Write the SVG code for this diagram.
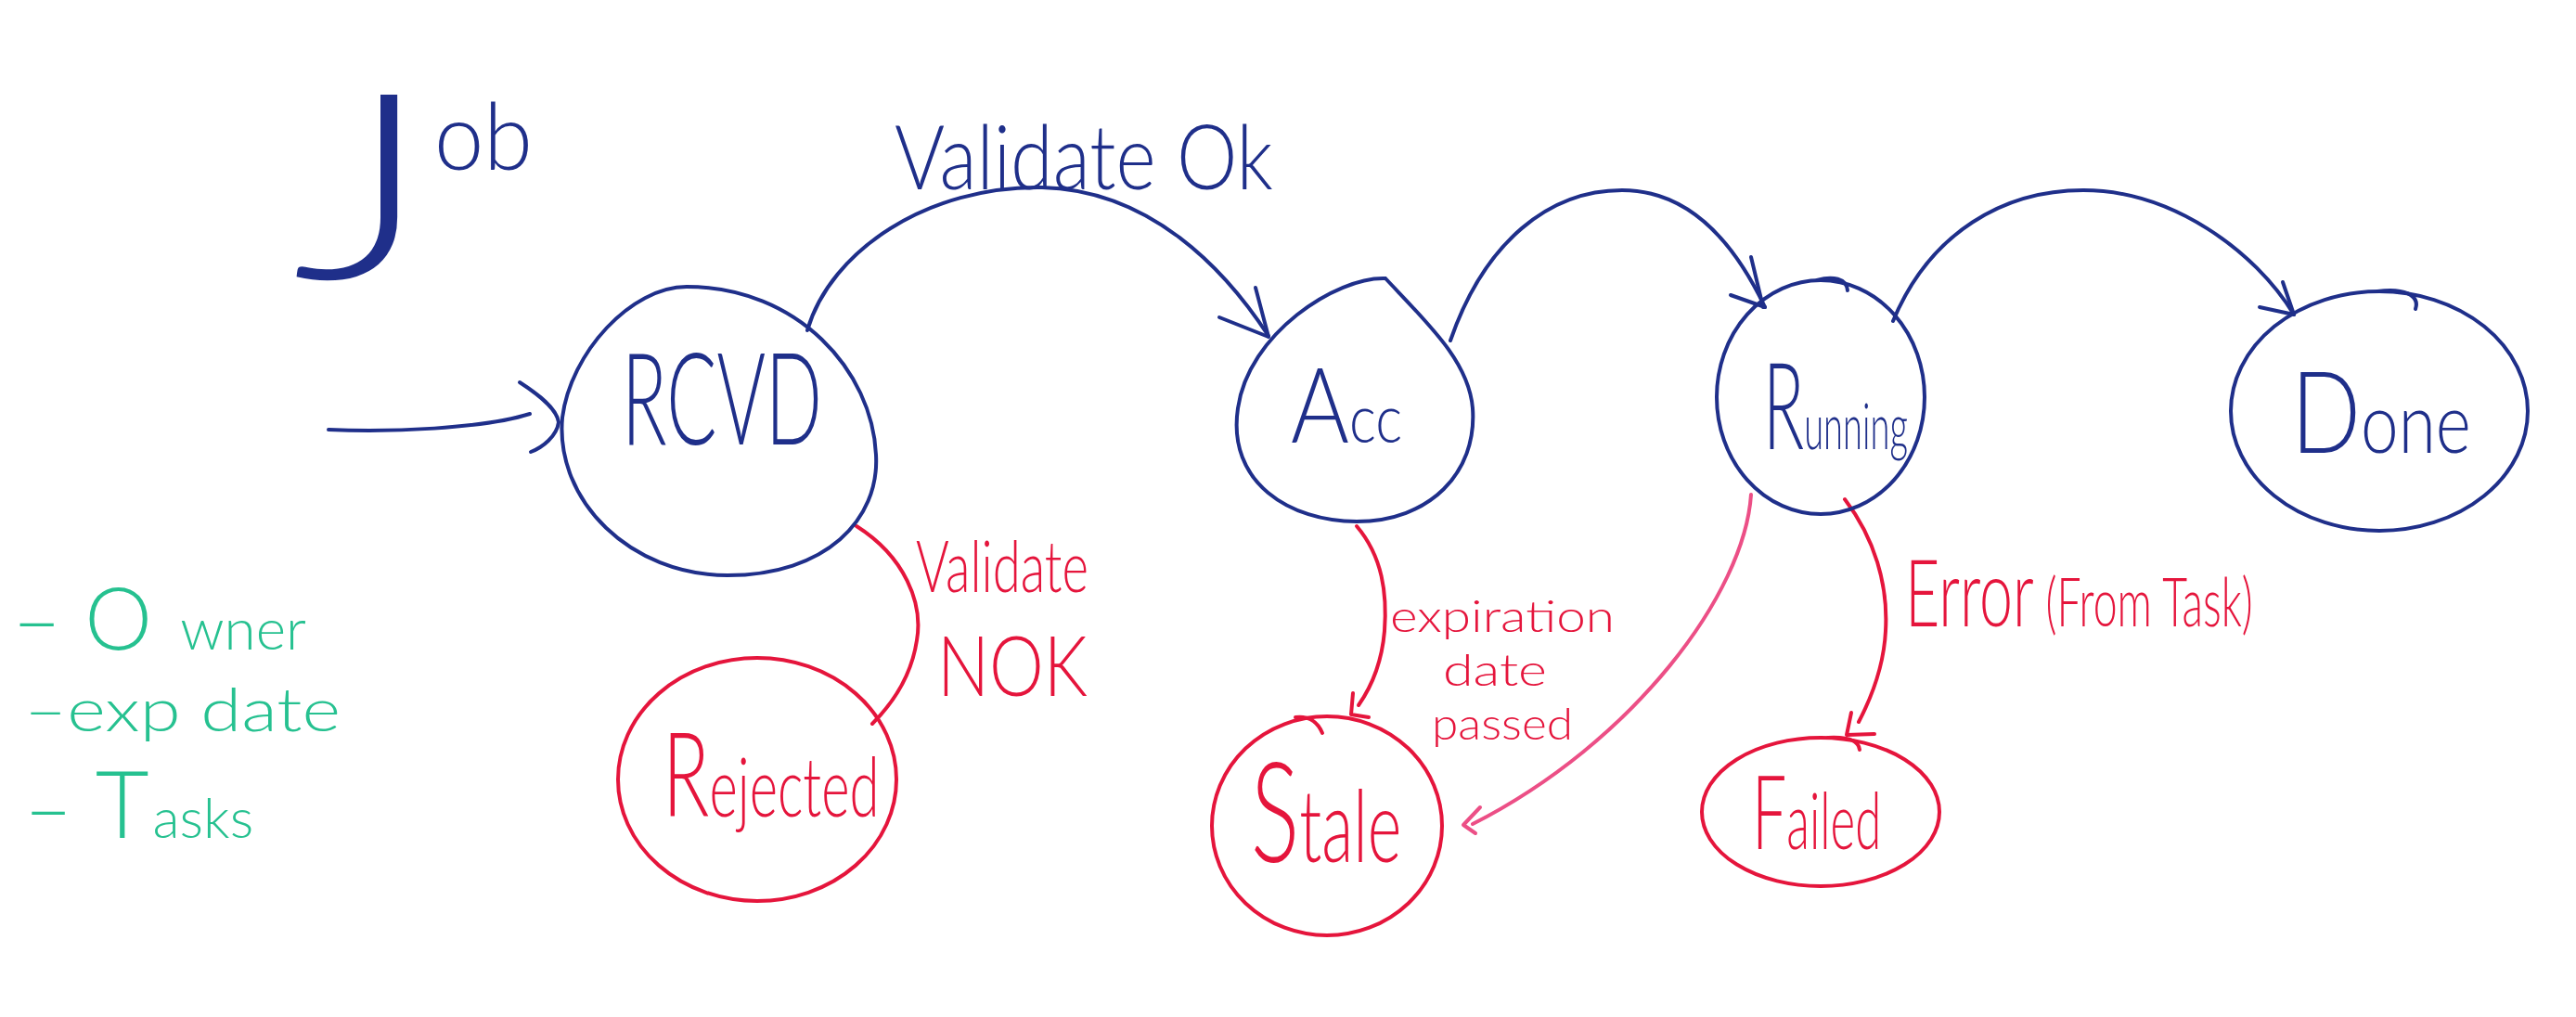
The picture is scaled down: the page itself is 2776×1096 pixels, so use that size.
<svg xmlns="http://www.w3.org/2000/svg" width="2776" height="1096" viewBox="0 0 2776 1096">
<style>
  text { font-family: Lato, "Liberation Sans", "DejaVu Sans", sans-serif; font-weight: 300; }
  .tb { fill: #1f2f8a; }
  .tr { fill: #e5153c; }
  .tg { fill: #26c190; }
  .nb { fill: none; stroke: #1f2f8a; stroke-width: 4; stroke-linecap: round; }
  .nr { fill: none; stroke: #e5153c; stroke-width: 4; stroke-linecap: round; }
  .eb { fill: none; stroke: #1f2f8a; stroke-width: 4; stroke-linecap: round; stroke-linejoin: round; }
  .er { fill: none; stroke: #e5153c; stroke-width: 4; stroke-linecap: round; stroke-linejoin: round; }
  .ep { fill: none; stroke: #ec4f86; stroke-width: 4; stroke-linecap: round; stroke-linejoin: round; }
</style>
<rect width="2776" height="1096" fill="#ffffff"/>

<g id="title">
  <text class="tb" x="315" y="300" font-size="280" textLength="148" lengthAdjust="spacingAndGlyphs">J</text>
  <text class="tb" x="468" y="183" font-size="100" textLength="106" lengthAdjust="spacingAndGlyphs">ob</text>
</g>

<g id="notes">
  <text class="tg" x="13" y="700"><tspan font-size="92">– O</tspan><tspan font-size="62" dx="30">wner</tspan></text>
  <text class="tg" x="26" y="788" font-size="66" textLength="341" lengthAdjust="spacingAndGlyphs">–exp date</text>
  <text class="tg" x="26" y="903"><tspan font-size="90">– </tspan><tspan font-size="100">T</tspan><tspan font-size="60" dx="4">asks</tspan></text>
</g>

<g id="connectors">
  <!-- start arrow -->
  <path class="eb" d="M 354 463 C 420 466, 520 462, 571 446"/>
  <path class="eb" d="M 560 412 C 580 425, 600 440, 602 455 C 600 470, 585 482, 572 487"/>
  <!-- RCVD -> Acc -->
  <path class="eb" d="M 870 356 C 895 270, 1000 200, 1123 202 C 1240 205, 1320 290, 1367 362"/>
  <path class="eb" d="M 1314 342 L 1367 363 M 1353 310 L 1367 363"/>
  <!-- Acc -> Running -->
  <path class="eb" d="M 1563 367 C 1600 260, 1670 205, 1748 205 C 1825 205, 1872 268, 1902 331"/>
  <path class="eb" d="M 1865 318 L 1902 331 M 1887 277 L 1900 331"/>
  <!-- Running -> Done -->
  <path class="eb" d="M 2040 346 C 2080 250, 2160 205, 2245 205 C 2340 205, 2430 270, 2472 339"/>
  <path class="eb" d="M 2435 331 L 2472 339 M 2460 304 L 2472 339"/>
  <!-- RCVD -> Rejected -->
  <path class="er" d="M 923 567 C 975 600, 995 650, 988 690 C 982 730, 960 760, 940 780"/>
  <!-- Acc -> Stale -->
  <path class="er" d="M 1462 567 C 1490 600, 1495 640, 1492 680 C 1489 715, 1478 740, 1464 760"/>
  <path class="er" d="M 1458 747 L 1456 770 L 1475 773"/>
  <!-- Running -> Stale -->
  <path class="ep" d="M 1887 533 C 1880 640, 1760 800, 1587 888"/>
  <path class="ep" d="M 1595 870 L 1577 889 L 1590 898"/>
  <!-- Running -> Failed -->
  <path class="er" d="M 1988 538 C 2020 580, 2035 630, 2032 680 C 2030 720, 2015 755, 2003 778"/>
  <path class="er" d="M 1995 768 L 1990 792 L 2020 791"/>
</g>

<g id="edge-labels">
  <text class="tb" x="964" y="204" font-size="96" textLength="408" lengthAdjust="spacingAndGlyphs">Validate Ok</text>
  <text class="tr" x="987" y="638" font-size="76" textLength="186" lengthAdjust="spacingAndGlyphs">Validate</text>
  <text class="tr" x="1010" y="750" font-size="90" textLength="162" lengthAdjust="spacingAndGlyphs">NOK</text>
  <text class="tr" x="1498" y="681" font-size="48" textLength="242" lengthAdjust="spacingAndGlyphs">expiration</text>
  <text class="tr" x="1555" y="739" font-size="48" textLength="112" lengthAdjust="spacingAndGlyphs">date</text>
  <text class="tr" x="1543" y="797" font-size="48" textLength="152" lengthAdjust="spacingAndGlyphs">passed</text>
  <text class="tr" transform="translate(2053,675) scale(0.645,1)"><tspan font-size="100">Error</tspan><tspan font-size="72"> (From Task)</tspan></text>
</g>

<g id="node-rcvd">
  <path class="nb" d="M 740 309 C 680 309, 615 380, 606 450 C 598 540, 680 620, 784 620 C 890 620, 948 560, 944 490 C 940 400, 860 309, 740 309 Z"/>
  <text class="tb" x="670" y="479" font-size="138" textLength="216" lengthAdjust="spacingAndGlyphs">RCVD</text>
</g>
<g id="node-acc">
  <path class="nb" d="M 1493 300 C 1440 298, 1345 360, 1334 440 C 1322 520, 1390 562, 1462 562 C 1540 562, 1592 510, 1587 440 C 1583 390, 1540 350, 1493 300 Z"/>
  <text class="tb" transform="translate(1391,477) scale(0.85,1)"><tspan font-size="113">A</tspan><tspan font-size="72">cc</tspan></text>
</g>
<g id="node-running">
  <ellipse class="nb" cx="1962" cy="428" rx="112" ry="126"/>
  <path class="nb" d="M 1958 302 C 1975 297, 1990 300, 1991 313"/>
  <text class="tb" transform="translate(1900,484) scale(0.56,1)"><tspan font-size="130">R</tspan><tspan font-size="68">unning</tspan></text>
</g>
<g id="node-done">
  <ellipse class="nb" cx="2564" cy="443" rx="160" ry="129"/>
  <path class="nb" d="M 2562 314 C 2590 310, 2608 318, 2603 333"/>
  <text class="tb" transform="translate(2469,488) scale(0.81,1)"><tspan font-size="122">D</tspan><tspan font-size="90">one</tspan></text>
</g>
<g id="node-rejected">
  <ellipse class="nr" cx="816" cy="840" rx="150" ry="131"/>
  <text class="tr" transform="translate(714,880) scale(0.66,1)"><tspan font-size="126">R</tspan><tspan font-size="88">ejected</tspan></text>
</g>
<g id="node-stale">
  <ellipse class="nr" cx="1430" cy="890" rx="124" ry="118"/>
  <path class="nr" d="M 1396 773 C 1410 771, 1420 778, 1425 790"/>
  <text class="tr" transform="translate(1348,929) scale(0.65,1)"><tspan font-size="150">S</tspan><tspan font-size="108">tale</tspan></text>
</g>
<g id="node-failed">
  <ellipse class="nr" cx="1962" cy="875" rx="128" ry="80"/>
  <path class="nr" d="M 1970 795 C 1990 794, 2003 798, 2004 808"/>
  <text class="tr" transform="translate(1888,915) scale(0.6,1)"><tspan font-size="110">F</tspan><tspan font-size="85">ailed</tspan></text>
</g>
</svg>
